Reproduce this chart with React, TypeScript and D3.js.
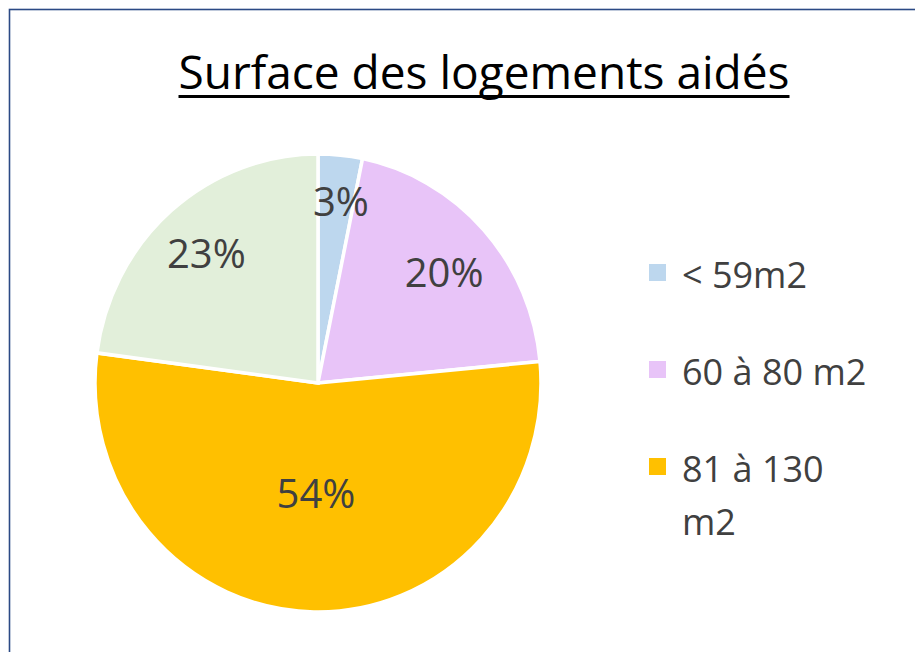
import { useEffect, useRef } from 'react';
import * as d3 from 'd3';

// Surface des logements aidés — pie with Excel-like styling

const CATEGORIES = ['< 59m2', '60 à 80 m2', '81 à 130 m2', '> 130 m2'];
const VALUES = [3.2, 20.3, 53.6, 22.9];
const SLICE_COLORS = ['#BDD7EE', '#E8C4F8', '#FFC000', '#E2EFDA'];
const TITLE = 'Surface des logements aidés';
// Excel drops legend entries that do not fit the plot height
const LEGEND_SHOWN = 3;

const W = 915;
const H = 652;
const TEXT = '#404040';

export default function App() {
  const svgRef = useRef<SVGSVGElement>(null);

  useEffect(() => {
    if (!svgRef.current) return;
    const svg = d3.select(svgRef.current);
    svg.selectAll('*').remove();

    // chart frame (runs off the right/bottom edges)
    svg.append('rect')
      .attr('x', 9.5)
      .attr('y', 9.5)
      .attr('width', W + 40)
      .attr('height', H + 40)
      .attr('fill', '#fff')
      .attr('stroke', '#2B4A85')
      .attr('stroke-width', 1.6);

    // title, underlined
    const title = svg.append('text')
      .attr('x', 484)
      .attr('y', 89)
      .attr('text-anchor', 'middle')
      .attr('font-family', 'Open Sans, sans-serif')
      .attr('font-size', 46)
      .attr('fill', '#000')
      .text(TITLE);
    const tw = (title.node() as SVGTextElement).getComputedTextLength();
    svg.append('rect')
      .attr('x', 484 - tw / 2)
      .attr('y', 95)
      .attr('width', tw)
      .attr('height', 3)
      .attr('fill', '#000');

    // pie
    const cx = 318;
    const cy = 383;
    const r = 223;
    const stretch = 229 / 223;

    const pie = d3.pie<number>().sort(null).value(d => d);
    const arcs = pie(VALUES);
    const arc = d3.arc<d3.PieArcDatum<number>>().innerRadius(0).outerRadius(r);

    const g = svg.append('g')
      .attr('transform', `translate(${cx},${cy}) scale(1,${stretch})`);

    g.selectAll('path')
      .data(arcs)
      .join('path')
      .attr('d', arc)
      .attr('fill', (_, i) => SLICE_COLORS[i])
      .attr('stroke', '#fff')
      .attr('stroke-width', 3.5)
      .attr('stroke-linejoin', 'miter');

    // percentage labels (best-fit: big slices toward the centre)
    arcs.forEach(a => {
      const mid = (a.startAngle + a.endAngle) / 2;
      const k = a.value > 50 ? 0.48 : a.value < 5 ? 0.8 : 0.76;
      const lx = cx + Math.sin(mid) * r * k + (a.value < 5 ? 5 : 0);
      const ly = cy - Math.cos(mid) * r * k * stretch + (a.value > 15 && a.value < 21 ? 5 : 0);
      svg.append('text')
        .attr('x', lx)
        .attr('y', ly)
        .attr('text-anchor', 'middle')
        .attr('dominant-baseline', 'central')
        .attr('font-family', 'Open Sans, sans-serif')
        .attr('font-size', 40)
        .attr('fill', TEXT)
        .text(`${Math.round(a.value)}%`);
    });

    // legend
    const lg = svg.append('g');
    let y = 288;
    CATEGORIES.slice(0, LEGEND_SHOWN).forEach((c, i) => {
      lg.append('rect')
        .attr('x', 649)
        .attr('y', y - 24)
        .attr('width', 17)
        .attr('height', 17)
        .attr('fill', SLICE_COLORS[i]);
      const lines = c === '81 à 130 m2' ? ['81 à 130', 'm2'] : [c];
      lines.forEach((ln, j) => {
        lg.append('text')
          .attr('x', 682)
          .attr('y', y + j * 53)
          .attr('font-family', 'Open Sans, sans-serif')
          .attr('font-size', 36)
          .attr('fill', TEXT)
          .text(ln);
      });
      y += 97 + (lines.length - 1) * 53;
    });
  }, []);

  return (
    <svg
      ref={svgRef}
      width={W}
      height={H}
      style={{ position: 'absolute', left: 0, top: 0, background: '#fff' }}
    />
  );
}
